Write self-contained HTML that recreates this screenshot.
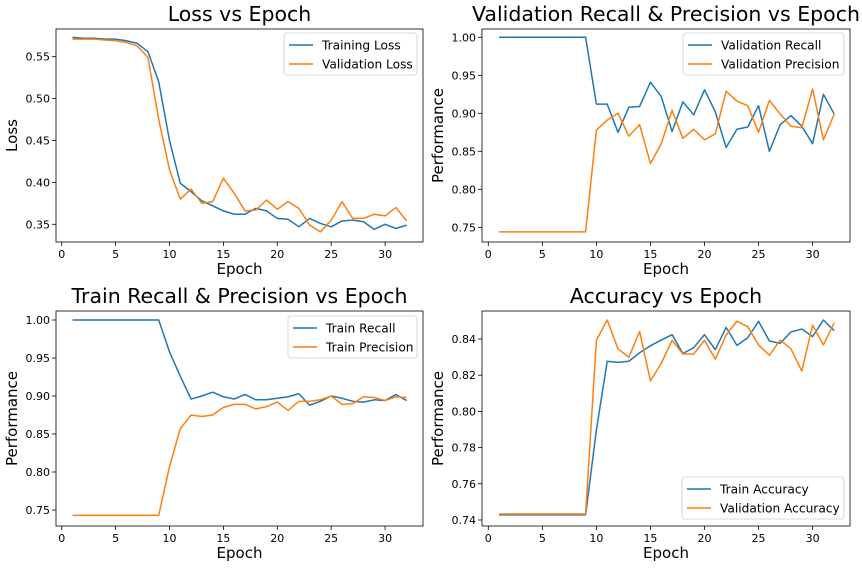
<!DOCTYPE html>
<html><head><meta charset="utf-8"><style>
body{margin:0;background:#fff;}
svg{display:block;font-family:"DejaVu Sans","Liberation Sans",sans-serif;}
</style></head><body>
<svg id="chart" width="862" height="568" viewBox="0 0 862 568"></svg>
<script>
const epochs = Array.from({length:32},(_,i)=>i+1);
const trainLoss = [0.573,0.572,0.572,0.571,0.571,0.569,0.566,0.556,0.520,0.450,0.399,0.389,0.378,0.372,0.366,0.362,0.362,0.369,0.366,0.357,0.356,0.347,0.357,0.351,0.347,0.354,0.355,0.353,0.344,0.350,0.345,0.349];
const valLoss = [0.571,0.571,0.571,0.570,0.569,0.567,0.563,0.549,0.475,0.415,0.380,0.392,0.375,0.377,0.405,0.387,0.366,0.367,0.379,0.368,0.377,0.369,0.349,0.341,0.355,0.377,0.357,0.357,0.362,0.360,0.370,0.354];
const valRecall = [1,1,1,1,1,1,1,1,1,0.912,0.912,0.875,0.908,0.909,0.941,0.922,0.876,0.915,0.898,0.931,0.902,0.855,0.879,0.882,0.910,0.850,0.885,0.897,0.883,0.860,0.925,0.899];
const valPrecision = [0.744,0.744,0.744,0.744,0.744,0.744,0.744,0.744,0.744,0.878,0.891,0.900,0.870,0.885,0.834,0.860,0.904,0.867,0.879,0.865,0.873,0.929,0.916,0.910,0.875,0.917,0.899,0.883,0.881,0.932,0.865,0.899];
const trainRecall = [1,1,1,1,1,1,1,1,1,0.958,0.926,0.896,0.900,0.905,0.899,0.896,0.902,0.895,0.895,0.897,0.899,0.903,0.888,0.893,0.900,0.897,0.893,0.892,0.895,0.894,0.902,0.894];
const trainPrecision = [0.743,0.743,0.743,0.743,0.743,0.743,0.743,0.743,0.743,0.807,0.857,0.875,0.873,0.875,0.885,0.889,0.889,0.883,0.886,0.892,0.881,0.893,0.893,0.895,0.900,0.889,0.890,0.899,0.898,0.894,0.899,0.898];
const trainAcc = [0.7428,0.7428,0.7428,0.7428,0.7428,0.7428,0.7428,0.7428,0.7428,0.7897,0.8277,0.8271,0.8277,0.8324,0.8363,0.8394,0.8424,0.832,0.8352,0.8424,0.8341,0.8464,0.8365,0.8407,0.8498,0.8389,0.8376,0.8439,0.8455,0.8413,0.8505,0.8446];
const valAcc = [0.7433,0.7433,0.7433,0.7433,0.7433,0.7433,0.7433,0.7433,0.7433,0.8393,0.8505,0.8345,0.8299,0.8441,0.8168,0.8266,0.8393,0.8317,0.8317,0.8393,0.8289,0.8422,0.8498,0.8468,0.8367,0.831,0.8394,0.8345,0.8223,0.8477,0.8367,0.849];
const xTicks = [0,5,10,15,20,25,30];
const lossTicks = ["0.35","0.40","0.45","0.50","0.55"];
const perfTicks = ["0.75","0.80","0.85","0.90","0.95","1.00"];
const accTicks = ["0.74","0.76","0.78","0.80","0.82","0.84"];

const NS="http://www.w3.org/2000/svg";
const svg=document.getElementById('chart');
function mk(tag,attrs,parent){const e=document.createElementNS(NS,tag);for(const k in attrs)e.setAttribute(k,attrs[k]);(parent||svg).appendChild(e);return e;}

const panels=[
 {id:'loss',title:'Loss vs Epoch',ylab:'Loss',yoff:39,box:[56,29,423,242],x0:61.7,xs:10.78,yRef:0.55,yRefPx:56.7,ys:838,ticks:lossTicks,
  series:[['Training Loss',trainLoss,'#1f77b4'],['Validation Loss',valLoss,'#ff7f0e']],leg:[284,33,417,75]},
 {id:'val-rp',title:'Validation Recall & Precision vs Epoch',ylab:'Performance',yoff:39,box:[482,29,850,242],x0:488.3,xs:10.81,yRef:1.0,yRefPx:37.3,ys:760,ticks:perfTicks,
  series:[['Validation Recall',valRecall,'#1f77b4'],['Validation Precision',valPrecision,'#ff7f0e']],leg:[683,33,844,75]},
 {id:'train-rp',title:'Train Recall & Precision vs Epoch',ylab:'Performance',yoff:39,box:[56,311,423,526],x0:61.7,xs:10.78,yRef:1.0,yRefPx:320,ys:760,ticks:perfTicks,
  series:[['Train Recall',trainRecall,'#1f77b4'],['Train Precision',trainPrecision,'#ff7f0e']],leg:[288,316,417,358]},
 {id:'accuracy',title:'Accuracy vs Epoch',ylab:'Performance',yoff:39,box:[482,311,850,526],x0:488.3,xs:10.81,yRef:0.84,yRefPx:339,ys:1810,ticks:accTicks,
  series:[['Train Accuracy',trainAcc,'#1f77b4'],['Validation Accuracy',valAcc,'#ff7f0e']],leg:[682,477,844,519]}
];

panels.forEach(p=>{
  const g=mk('g',{});
  
  
  const [l,t,r,b]=p.box;
  const X=e=>p.x0+e*p.xs;
  const Y=v=>p.yRefPx+(p.yRef-v)*p.ys;
  const cx=(l+r)/2;
  const ti=mk('text',{x:cx,y:t-8,'text-anchor':'middle','font-size':'20.5',fill:'#000'},g);ti.textContent=p.title;
  
  
  xTicks.forEach(v=>{
    const x=X(v);
    mk('line',{x1:x,x2:x,y1:b,y2:b+4,stroke:'#000','stroke-width':0.8},g);
    const tx=mk('text',{x:x,y:b+16,'text-anchor':'middle','font-size':'11',fill:'#000'},g);tx.textContent=v;
    
    
  });
  p.ticks.forEach(s=>{
    const y=Y(parseFloat(s));
    mk('line',{x1:l-4,x2:l,y1:y,y2:y,stroke:'#000','stroke-width':0.8},g);
    const tx=mk('text',{x:l-6,y:y+4,'text-anchor':'end','font-size':'11',fill:'#000'},g);tx.textContent=s;
    
    
  });
  const xl=mk('text',{x:cx,y:b+32,'text-anchor':'middle','font-size':'15',fill:'#000'},g);xl.textContent='Epoch';
  
  
  const ym=(t+b)/2, yx=l-p.yoff;
  const yl=mk('text',{x:yx,y:ym,'text-anchor':'middle','font-size':'15',fill:'#000',transform:`rotate(-90 ${yx} ${ym})`},g);yl.textContent=p.ylab;
  
  
  p.series.forEach(([name,vals,col])=>{
    const d=vals.map((v,i)=>(i?'L':'M')+X(epochs[i]).toFixed(2)+' '+Y(v).toFixed(2)).join(' ');
    const pa=mk('path',{d:d,fill:'none',stroke:col,'stroke-width':1.5,'stroke-linejoin':'round'},g);
    
    
  });
  const fr=mk('rect',{x:l,y:t,width:r-l,height:b-t,fill:'none',stroke:'#000','stroke-width':0.8},g);
  
  
  const [ll,lt,lr,lb]=p.leg;
  const lg=mk('g',{},g);
  
  
  mk('rect',{x:ll,y:lt,width:lr-ll,height:lb-lt,rx:3,fill:'#fff','fill-opacity':0.8,stroke:'#ccc','stroke-width':0.8},lg);
  p.series.forEach(([name,vals,col],i)=>{
    const y=lt+12+i*19;
    mk('line',{x1:ll+5,x2:ll+29,y1:y,y2:y,stroke:col,'stroke-width':1.5},lg);
    const tx=mk('text',{x:ll+38,y:y+4.5,'font-size':'12.2',fill:'#000'},lg);tx.textContent=name;
    
    
  });
});
</script>
</body></html>
